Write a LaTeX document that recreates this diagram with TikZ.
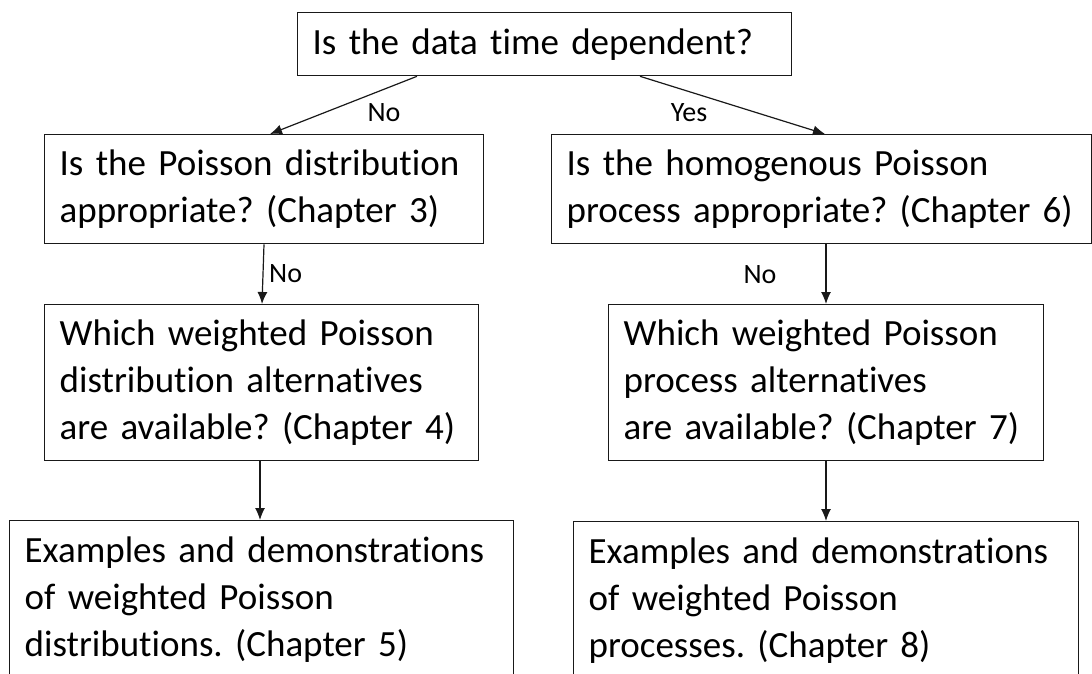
\documentclass[tikz,border=0pt]{standalone}
\usepackage{fontspec}
\setmainfont{Carlito}[Ligatures=NoCommon]
\usetikzlibrary{shapes,arrows.meta,positioning}
\tikzstyle{block} = [rectangle, draw=black!90, line width=1.3pt, anchor=north west,
    align=left, inner xsep=15pt, inner ysep=0pt, font=\fontsize{37}{47}\selectfont]
\tikzstyle{line} = [draw=black!90, line width=1.2pt, -{Latex[length=12pt,width=10pt]}]
\tikzstyle{answer} = [inner sep=0pt, font=\fontsize{28}{34}\selectfont]
\frenchspacing
\hyphenpenalty=10000

\begin{document}
\begin{tikzpicture}[x=1pt, y=-1pt]
  \useasboundingbox (0,0) rectangle (1092,673);
  % Place nodes
  \node [block, text width=464pt, minimum height=63pt] (timedep) at (297,12) {Is the data time dependent?};
  \node [block, text width=409pt, minimum height=109pt] (poisdist) at (44,134) {Is the Poisson distribution\\appropriate? (Chapter 3)};
  \node [block, text width=510pt, minimum height=109pt] (hompois) at (551,134) {Is the homogenous Poisson\\process appropriate? (Chapter 6)};
  \node [block, text width=404pt, minimum height=156pt] (wdist) at (44,304) {Which weighted Poisson\\distribution alternatives\\are available? (Chapter 4)};
  \node [block, text width=405pt, minimum height=156pt] (wproc) at (608,304) {Which weighted Poisson\\process alternatives\\are available? (Chapter 7)};
  \node [block, text width=474pt, minimum height=158pt] (exdist) at (9,520) {Examples and demonstrations\\of weighted Poisson\\distributions. (Chapter 5)};
  \node [block, text width=475pt, minimum height=158pt] (exproc) at (573,521) {Examples and demonstrations\\of weighted Poisson\\processes. (Chapter 8)};
  % Draw edges
  \path [line] ([xshift=120pt]timedep.south west) -- ([xshift=226pt]poisdist.north west);
  \path [line] ([xshift=343pt]timedep.south west) -- ([xshift=274pt]hompois.north west);
  \path [line] ([xshift=220pt]poisdist.south west) -- ([xshift=218pt]wdist.north west);
  \path [line] ([xshift=216pt]wdist.south west) -- ([xshift=251pt]exdist.north west);
  \path [line] ([xshift=275pt]hompois.south west) -- ([xshift=218pt]wproc.north west);
  \path [line] ([xshift=218pt]wproc.south west) -- ([xshift=253pt]exproc.north west);
  % Comments
  \node [answer] (no1) at (384,113) {No};
  \node [answer] (yes1) at (689,113) {Yes};
  \node [answer, anchor=west] (no2) at (269,274) {No};
  \node [answer] (no3) at (760,275) {No};
\end{tikzpicture}
\end{document}
